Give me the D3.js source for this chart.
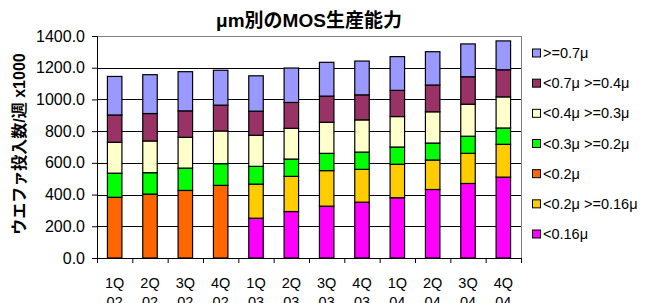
<!DOCTYPE html>
<html>
<head>
<meta charset="utf-8">
<script src="https://cdn.jsdelivr.net/npm/d3@7"></script>
<style>
  body { margin: 0; background: #fff; }
  svg text { font-family: "Liberation Sans", Arial, "Noto Sans CJK JP", sans-serif; }
</style>
</head>
<body>
<div class="svg"></div>
<script>
var quarters = ['1Q', '2Q', '3Q', '4Q', '1Q', '2Q', '3Q', '4Q', '1Q', '2Q', '3Q', '4Q'];
var years = ['02', '02', '02', '02', '03', '03', '03', '03', '04', '04', '04', '04'];
var yTicks = [0, 200, 400, 600, 800, 1000, 1200, 1400];

// stacked bottom -> top
var lt016 = [0, 0, 0, 0, 251, 293, 327, 352, 380, 432, 470, 510];
var lt02ge016 = [0, 0, 0, 0, 215, 222, 224, 207, 211, 186, 190, 207];
var lt02 = [383, 403, 426, 458, 0, 0, 0, 0, 0, 0, 0, 0];
var lt03ge02 = [152, 135, 141, 137, 112, 109, 109, 109, 109, 107, 108, 103];
var lt04ge03 = [195, 200, 194, 206, 196, 194, 196, 203, 192, 197, 202, 196];
var lt07ge04 = [172, 173, 167, 163, 152, 163, 165, 158, 165, 169, 173, 171];
var ge07 = [243, 245, 247, 220, 223, 217, 213, 213, 213, 210, 207, 182];

var seriesNames = ['<0.16μ', '<0.2μ >=0.16μ', '<0.2μ', '<0.3μ >=0.2μ', '<0.4μ >=0.3μ', '<0.7μ >=0.4μ', '>=0.7μ'];
var seriesVals = [lt016, lt02ge016, lt02, lt03ge02, lt04ge03, lt07ge04, ge07];
var colors = ['#FF00FF', '#FFCC00', '#FF6600', '#00FF00', '#FFFFCC', '#993366', '#9999FF'];

var W = 652, H = 303;
var pL = 97, pR = 521, pT = 36, pB = 258;

var svg = d3.select('div.svg').append('svg')
  .attr('width', W)
  .attr('height', H);

var idx = d3.range(quarters.length);
var rows = idx.map(function (i) {
  var r = {i: i};
  seriesNames.forEach(function (n, k) { r[n] = seriesVals[k][i]; });
  return r;
});

var x = d3.scaleBand().domain(idx).range([pL, pR]).paddingInner(0.59).paddingOuter(0.295);
var xEdge = d3.scaleLinear().domain([0, quarters.length]).range([pL, pR]);
var y = d3.scaleLinear().domain([0, 1400]).range([pB, pT]);

// gridlines
svg.append('g')
  .attr('transform', 'translate(' + pL + ',0)')
  .call(d3.axisLeft(y).tickValues(yTicks.slice(1, -1)).tickSize(-(pR - pL)).tickFormat(''))
  .call(function (g) {
    g.select('.domain').remove();
    g.selectAll('line').attr('stroke', '#000').attr('shape-rendering', 'crispEdges');
  });

// plot border
svg.append('rect')
  .attr('x', pL).attr('y', pT)
  .attr('width', pR - pL).attr('height', pB - pT)
  .attr('fill', 'none').attr('stroke', '#808080')
  .attr('shape-rendering', 'crispEdges');

var stack = d3.stack().keys(seriesNames)(rows);

svg.append('g').selectAll('g')
  .data(stack)
  .enter().append('g')
  .attr('fill', function (d, k) { return colors[k]; })
  .selectAll('rect')
  .data(function (d) { return d.filter(function (p) { return p[1] > p[0]; }); })
  .enter().append('rect')
  .attr('x', function (d) { return x(d.data.i); })
  .attr('y', function (d) { return y(d[1]); })
  .attr('width', x.bandwidth())
  .attr('height', function (d) { return y(d[0]) - y(d[1]); })
  .attr('stroke', '#000')
  .attr('stroke-width', 1.2);

// y axis
svg.append('g')
  .attr('transform', 'translate(' + pL + ',0)')
  .call(d3.axisLeft(y).tickValues(yTicks).tickSize(5).tickPadding(7).tickFormat(d3.format('.1f')))
  .call(function (g) {
    g.selectAll('line, path').attr('stroke', '#000');
    g.selectAll('text').attr('font-size', 16).attr('fill', '#000');
  });

// x axis
svg.append('g')
  .attr('transform', 'translate(0,' + pB + ')')
  .call(d3.axisBottom(xEdge).tickValues(d3.range(quarters.length + 1)).tickSize(5).tickSizeOuter(0).tickFormat(''))
  .call(function (g) {
    g.selectAll('line, path').attr('stroke', '#000');
  });

var xl = svg.append('g').selectAll('text')
  .data(idx)
  .enter().append('text')
  .attr('text-anchor', 'middle')
  .attr('font-size', 14.5)
  .attr('fill', '#000');
xl.append('tspan')
  .attr('x', function (i) { return x(i) + x.bandwidth() / 2; })
  .attr('y', 288)
  .text(function (i) { return quarters[i]; });
xl.append('tspan')
  .attr('x', function (i) { return x(i) + x.bandwidth() / 2; })
  .attr('y', 307)
  .text(function (i) { return years[i]; });

// title
svg.append('text')
  .attr('x', (pL + pR) / 2).attr('y', 27)
  .attr('text-anchor', 'middle')
  .attr('font-size', 19).attr('font-weight', 'bold')
  .text('μm別のMOS生産能力');

// y title
svg.append('text')
  .attr('transform', 'translate(25,' + ((pT + pB) / 2 - 3) + ') rotate(-90)')
  .attr('text-anchor', 'middle')
  .attr('font-size', 16).attr('font-weight', 'bold')
  .text('ウエファ投入数/週 x1000');

// legend (top item = last series)
var legendOrder = d3.range(seriesNames.length).reverse();
var ly = d3.scalePoint().domain(legendOrder).range([53, 234]);
var lg = svg.append('g').selectAll('g')
  .data(legendOrder)
  .enter().append('g')
  .attr('transform', function (k) { return 'translate(532,' + ly(k) + ')'; });
lg.append('rect')
  .attr('x', 0.5).attr('y', -4)
  .attr('width', 8).attr('height', 8)
  .attr('fill', function (k) { return colors[k]; })
  .attr('stroke', '#000');
lg.append('text')
  .attr('x', 11).attr('y', 5)
  .attr('font-size', 14.5)
  .text(function (k) { return seriesNames[k]; });
</script>
</body>
</html>
